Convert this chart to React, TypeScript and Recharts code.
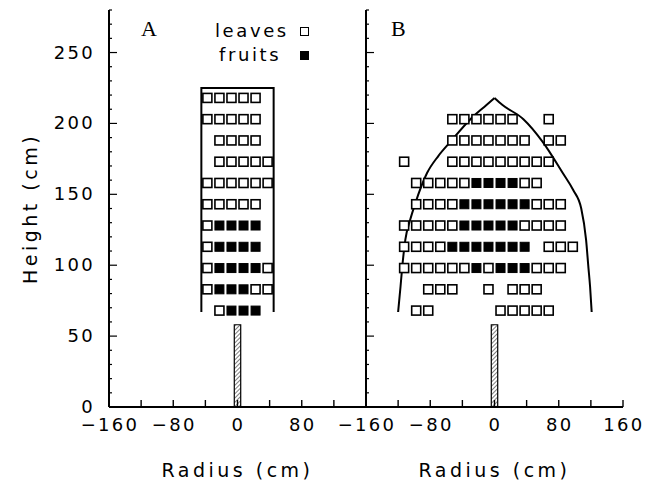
import React from 'react';
import { ScatterChart, Scatter, XAxis, YAxis, ReferenceArea } from 'recharts';

// ---- data (cm) ----
const rowHeights = [218, 203, 188, 173, 158, 143, 128, 113, 98, 83, 68];

const leavesA: number[][] = [
  [-37.5, -22.5, -7.5, 7.5, 22.5],
  [-37.5, -22.5, -7.5, 7.5, 22.5],
  [-22.5, -7.5, 7.5, 22.5],
  [-22.5, -7.5, 7.5, 22.5, 37.5],
  [-37.5, -22.5, -7.5, 7.5, 22.5, 37.5],
  [-37.5, -22.5, -7.5, 7.5, 22.5],
  [-37.5],
  [-37.5],
  [-37.5, 37.5],
  [-37.5, 22.5, 37.5],
  [-22.5],
];
const fruitsA: number[][] = [
  [], [], [], [], [], [],
  [-22.5, -7.5, 7.5, 22.5],
  [-22.5, -7.5, 7.5, 22.5],
  [-22.5, -7.5, 7.5, 22.5],
  [-22.5, -7.5, 7.5],
  [-7.5, 7.5, 22.5],
];
const leavesB: number[][] = [
  [],
  [-52.5, -37.5, -22.5, -7.5, 7.5, 22.5, 67.5],
  [-52.5, -37.5, -22.5, -7.5, 7.5, 22.5, 37.5, 67.5, 82.5],
  [-112.5, -52.5, -37.5, -22.5, -7.5, 7.5, 22.5, 37.5, 52.5, 67.5],
  [-97.5, -82.5, -67.5, -52.5, -37.5, 37.5, 52.5],
  [-97.5, -82.5, -67.5, -52.5, 52.5, 67.5, 82.5],
  [-112.5, -97.5, -82.5, -67.5, -52.5, 37.5, 52.5, 67.5, 82.5],
  [-112.5, -97.5, -82.5, -67.5, 67.5, 82.5, 97.5],
  [-112.5, -97.5, -82.5, -67.5, -52.5, -37.5, -7.5, 52.5, 67.5, 82.5],
  [-82.5, -67.5, -52.5, -7.5, 22.5, 37.5, 52.5],
  [-97.5, -82.5, 7.5, 22.5, 37.5, 52.5, 67.5],
];
const fruitsB: number[][] = [
  [], [], [], [],
  [-22.5, -7.5, 7.5, 22.5],
  [-37.5, -22.5, -7.5, 7.5, 22.5, 37.5],
  [-37.5, -22.5, -7.5, 7.5, 22.5],
  [-52.5, -37.5, -22.5, -7.5, 7.5, 22.5, 37.5],
  [-22.5, 7.5, 22.5, 37.5],
  [], [],
];

// crown outline A (open-bottom rectangle)
const crownAR = [-45, -45, 45, 45];
const crownAH = [67, 225, 225, 67];
// crown envelope B (left and right halves, meeting at the apex)
const curveBLeftR = [-120, -117, -115, -111, -105, -99, -84, -70, -55, -30, -10, 0];
const curveBLeftH = [67, 85, 98, 118, 132, 143, 165, 177, 187, 203, 213, 218];
const curveBRightR = [0, 10, 36, 60, 85, 98, 108, 114, 117, 119, 121];
const curveBRightH = [218, 213, 203, 187, 165, 153, 140, 118, 98, 85, 67];
// trunk
const trunkR = [-4, 4];
const trunkH = [0, 58];

const xTicks = [-160, -120, -80, -40, 0, 40, 80, 120, 160];
const xLabelsA = [-160, -80, 0, 80];
const xLabelsB = [-160, -80, 0, 80, 160];
const yTicks = [0, 10, 20, 30, 40, 50, 60, 70, 80, 90, 100, 110, 120, 130, 140, 150, 160, 170, 180, 190, 200, 210, 220, 230, 240, 250, 260, 270, 280];
const yLabels = [0, 50, 100, 150, 200, 250];

// ---- helpers ----
const toPoints = (rows: number[][]) =>
  rows.flatMap((xs, i) => xs.map((x) => ({ x, y: rowHeights[i] })));
const zip = (xs: number[], ys: number[]) => xs.map((x, i) => ({ x, y: ys[i] }));

const FONT = "'DejaVu Sans', sans-serif";
const fmt = (v: number) => (v < 0 ? '\u2212' + Math.abs(v) : String(v));

const OpenSq = (p: any) => (
  <rect x={p.cx - 4.5} y={p.cy - 4.5} width={9} height={9} fill="#fff" stroke="#000" strokeWidth={1.6} />
);
const FillSq = (p: any) => (
  <rect x={p.cx - 4.5} y={p.cy - 4.5} width={9} height={9} fill="#000" stroke="#000" strokeWidth={1} />
);
const NoDot = () => <g />;

const textStyle = { fontFamily: FONT, fontSize: 18, letterSpacing: 2.3, fill: '#000' } as const;
const titleStyle = { fontFamily: FONT, fontSize: 19, letterSpacing: 3.5, fill: '#000' } as const;

const bottomTick = (labels: number[]) => (p: any) => {
  const v = p.payload.value;
  return (
    <g>
      <line x1={p.x} x2={p.x} y1={p.y} y2={p.y - 7} stroke="#000" strokeWidth={1.4} />
      {labels.includes(v) && (
        <text x={p.x + 1} y={p.y + 24} textAnchor="middle" style={textStyle}>
          {fmt(v)}
        </text>
      )}
    </g>
  );
};
const topTick = (p: any) => (
  <line x1={p.x} x2={p.x} y1={p.y} y2={p.y + 7} stroke="#000" strokeWidth={1.4} />
);
const leftTick = (withLabels: boolean) => (p: any) => {
  const v = p.payload.value;
  const major = yLabels.includes(v);
  return (
    <g>
      <line x1={p.x} x2={p.x + (major ? 8 : 3)} y1={p.y} y2={p.y} stroke="#000" strokeWidth={1.2} />
      {withLabels && major && (
        <text x={p.x - 14} y={p.y + 6} textAnchor="end" style={textStyle}>
          {fmt(v)}
        </text>
      )}
    </g>
  );
};
const rightTick = (p: any) => {
  const v = p.payload.value;
  const major = yLabels.includes(v);
  return <line x1={p.x} x2={p.x - (major ? 8 : 3)} y1={p.y} y2={p.y} stroke="#000" strokeWidth={1.2} />;
};

const axisLine = { stroke: '#000', strokeWidth: 2 };

function Panel({ which }: { which: 'A' | 'B' }) {
  const isA = which === 'A';
  const leaves = toPoints(isA ? leavesA : leavesB);
  const fruits = toPoints(isA ? fruitsA : fruitsB);
  const outlines = isA
    ? [zip(crownAR, crownAH)]
    : [zip(curveBLeftR, curveBLeftH), zip(curveBRightR, curveBRightH)];
  const width = isA ? 380 : 349;
  return (
    <ScatterChart
      width={width}
      height={486}
      margin={{ top: 10, right: isA ? 14 : 26, bottom: 0, left: 0 }}
    >
      <XAxis
        xAxisId="b"
        type="number"
        dataKey="x"
        domain={[-160, 160]}
        ticks={xTicks}
        interval={0}
        allowDataOverflow
        orientation="bottom"
        height={79}
        tickSize={0}
        tickMargin={0}
        tickLine={false}
        axisLine={axisLine}
        tick={bottomTick(isA ? xLabelsA : xLabelsB)}
        label={{
          value: 'Radius (cm)',
          position: 'insideBottom',
          offset: 9,
          style: titleStyle,
        }}
      />
      <XAxis
        xAxisId="t"
        type="number"
        domain={[-160, 160]}
        ticks={xTicks}
        interval={0}
        allowDataOverflow
        orientation="top"
        height={0}
        tickSize={0}
        tickMargin={0}
        tickLine={false}
        axisLine={axisLine}
        tick={topTick}
      />
      <YAxis
        yAxisId="l"
        type="number"
        dataKey="y"
        domain={[0, 280]}
        ticks={yTicks}
        interval={0}
        allowDataOverflow
        orientation="left"
        width={isA ? 109 : 66}
        tickSize={0}
        tickMargin={0}
        tickLine={false}
        axisLine={axisLine}
        tick={leftTick(isA)}
        label={
          isA
            ? {
                value: 'Height (cm)',
                angle: -90,
                position: 'insideLeft',
                offset: 30,
                style: { ...titleStyle, textAnchor: 'middle' },
              }
            : undefined
        }
      />
      <YAxis
        yAxisId="r"
        type="number"
        domain={[0, 280]}
        ticks={yTicks}
        interval={0}
        allowDataOverflow
        orientation="right"
        width={0}
        tickSize={0}
        tickMargin={0}
        tickLine={false}
        axisLine={axisLine}
        tick={rightTick}
      />
      <ReferenceArea
        xAxisId="b"
        yAxisId="l"
        x1={trunkR[0]}
        x2={trunkR[1]}
        y1={trunkH[0]}
        y2={trunkH[1]}
        fill="url(#hatch)"
        fillOpacity={1}
        stroke="#000"
        strokeWidth={1.2}
        ifOverflow="visible"
      />
      {outlines.map((d, i) => (
        <Scatter
          key={i}
          xAxisId="b"
          yAxisId="l"
          data={d}
          line={{ stroke: '#000', strokeWidth: 2 }}
          lineJointType={isA ? 'linear' : 'monotoneX'}
          shape={NoDot}
          isAnimationActive={false}
        />
      ))}
      <Scatter xAxisId="b" yAxisId="l" data={leaves} shape={OpenSq} isAnimationActive={false} />
      <Scatter xAxisId="b" yAxisId="l" data={fruits} shape={FillSq} isAnimationActive={false} />
    </ScatterChart>
  );
}

const panelLetter = {
  position: 'absolute' as const,
  fontFamily: "'Liberation Serif', serif",
  fontSize: 22,
  lineHeight: '22px',
  color: '#000',
};
const legendText = {
  position: 'absolute' as const,
  fontFamily: FONT,
  fontSize: 18,
  letterSpacing: 2.6,
  lineHeight: '18px',
  color: '#000',
};

export default function App() {
  return (
    <div style={{ position: 'absolute', left: 0, top: 0, width: 649, height: 486, background: '#fff', overflow: 'hidden' }}>
      <svg width={0} height={0} style={{ position: 'absolute' }}>
        <defs>
          <pattern id="hatch" width={3} height={3} patternUnits="userSpaceOnUse" patternTransform="rotate(45)">
            <line x1={0} y1={0} x2={0} y2={3} stroke="#000" strokeWidth={1} />
          </pattern>
        </defs>
      </svg>
      <div style={{ position: 'absolute', left: 0, top: 0 }}>
        <Panel which="A" />
      </div>
      <div style={{ position: 'absolute', left: 300, top: 0 }}>
        <Panel which="B" />
      </div>
      <div style={{ ...panelLetter, left: 141, top: 18 }}>A</div>
      <div style={{ ...panelLetter, left: 391, top: 18 }}>B</div>
      <div style={{ ...legendText, left: 215, top: 22 }}>leaves</div>
      <div style={{ ...legendText, left: 219, top: 46 }}>fruits</div>
      <div style={{ position: 'absolute', left: 300, top: 27, width: 7, height: 7, border: '1.6px solid #000', background: '#fff' }} />
      <div style={{ position: 'absolute', left: 300, top: 51, width: 9, height: 9, background: '#000' }} />
    </div>
  );
}
